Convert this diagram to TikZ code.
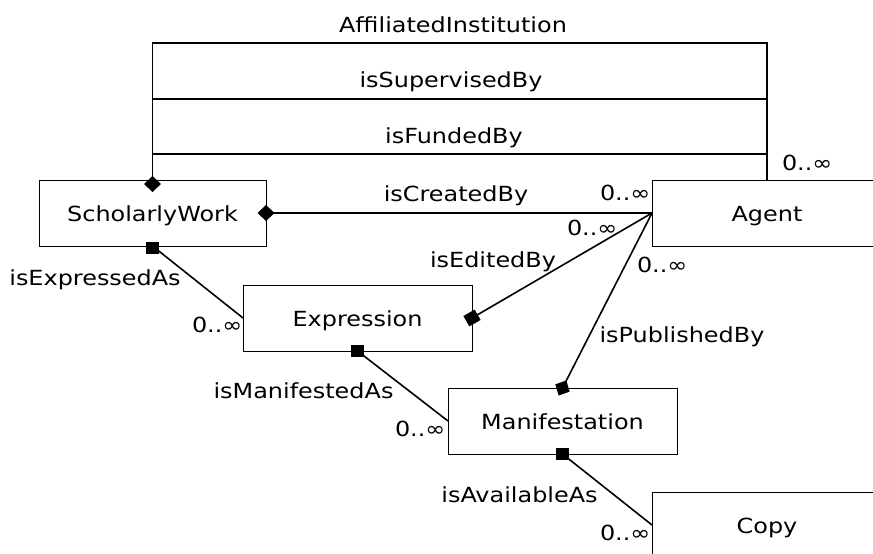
\documentclass[tikz,border=0pt]{standalone}
\usepackage{fontspec}
\setmainfont{DejaVu Sans}[FakeStretch=1.15]
\usetikzlibrary{shapes.geometric}
\begin{document}
\begin{tikzpicture}[x=1pt,y=-1pt,
 every node/.style={font=\fontsize{20.8}{24}\selectfont, inner sep=0pt, outer sep=0pt},
 cls/.style={draw, line width=1pt, minimum width=229pt, minimum height=66pt, text height=16pt, text depth=0pt},
 lbl/.style={anchor=base},
 mult/.style={anchor=base west},
 conn/.style={line width=1.6pt},
 frame/.style={line width=1.2pt},
 sqm/.style={fill=black, minimum width=13pt, minimum height=12pt},
 dim/.style={diamond, fill=black, minimum width=17pt, minimum height=16pt}]
\useasboundingbox (0,0) rectangle (873,554);

% classes
\node[cls, minimum width=227pt] (sw) at (152.5,213) {ScholarlyWork};
\node[cls, minimum width=230pt] (agent) at (767,213) {Agent};
\node[cls] (expr) at (357.5,318) {Expression};
\node[cls] (manif) at (562.5,421) {Manifestation};
\node[cls, minimum width=230pt] (copy) at (767,525) {Copy};

% routing coordinates for the upper associations
\coordinate (yAff) at (0,43);
\coordinate (ySup) at (0,99);
\coordinate (yFund) at (0,154);

\draw[frame] (sw.north) -- (sw.north |- yAff) -| (agent.north);
\draw[frame] (sw.north |- ySup) -| (agent.north);
\draw[frame] (sw.north |- yFund) -| (agent.north);

% associations
\draw[conn] (sw.east) -- (agent.west);
\draw[conn] (sw.south) -- (expr.west);
\draw[conn] (agent.west) -- (expr.east);
\draw[conn] (agent.west) -- (manif.north);
\draw[conn] (expr.south) -- (manif.west);
\draw[conn] (manif.south) -- (copy.west);

% end markers
\node[dim] (d1) at ([yshift=-4pt]sw.north) {};
\node[dim] (d2) at (sw.east) {};
\node[dim, rotate=62.9] (d3) at (manif.north) {};
\node[sqm] (s1) at ([yshift=-2pt]sw.south) {};
\node[sqm, rotate=30] (s2) at (expr.east) {};
\node[sqm] (s3) at (expr.south) {};
\node[sqm] (s4) at (manif.south) {};

% association labels
\node[lbl] (lAff) at (453,32) {AffiliatedInstitution};
\node[lbl] (lSup) at (451,87) {isSupervisedBy};
\node[lbl] (lFund) at (454,143) {isFundedBy};
\node[lbl] (lCre) at (456,201) {isCreatedBy};
\node[lbl] (lEd) at (493,267) {isEditedBy};
\node[lbl] (lPub) at (682,342) {isPublishedBy};
\node[lbl] (lExp) at (95,285) {isExpressedAs};
\node[lbl] (lMan) at (303.5,398) {isManifestedAs};
\node[lbl] (lAv) at (519.5,502) {isAvailableAs};

% multiplicities
\node[mult] (m1) at (600,200) {0..∞};
\node[mult] (m2) at (782,170) {0..∞};
\node[mult] (m3) at (567,235) {0..∞};
\node[mult] (m4) at (637,272) {0..∞};
\node[mult] (m5) at (192,332) {0..∞};
\node[mult] (m6) at (395,436) {0..∞};
\node[mult] (m7) at (600,540) {0..∞};
\end{tikzpicture}
\end{document}
